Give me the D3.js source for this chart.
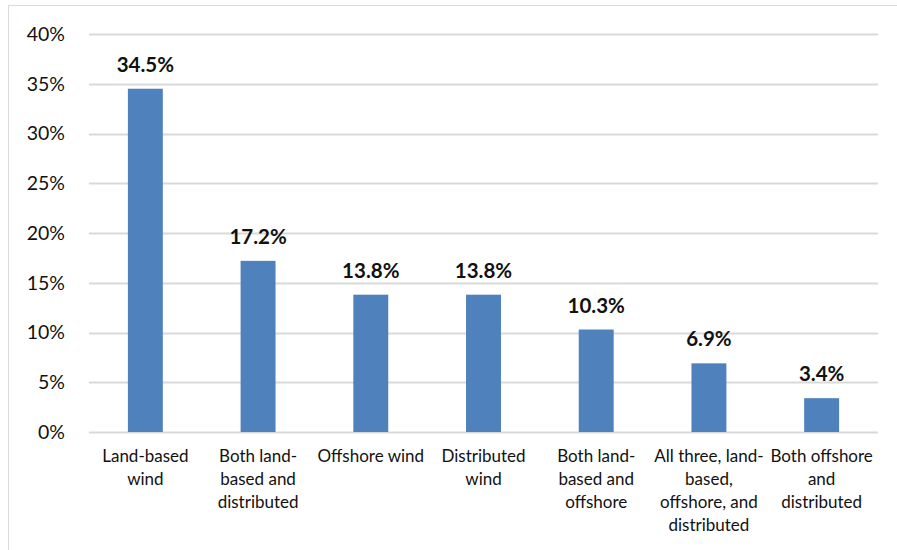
<!DOCTYPE html>
<html>
<head>
<meta charset="utf-8">
<script src="https://cdn.jsdelivr.net/npm/d3@7"></script>
<style>
  body { margin: 0; background: #fff; }
  svg text { font-family: Lato, "Open Sans", sans-serif; fill: #111; }
</style>
</head>
<body>
<script>
// categories (wrapped as in the original), values in percent
var categories = [
  ["Land-based", "wind"],
  ["Both land-", "based and", "distributed"],
  ["Offshore wind"],
  ["Distributed", "wind"],
  ["Both land-", "based and", "offshore"],
  ["All three, land-", "based,", "offshore, and", "distributed"],
  ["Both offshore", "and", "distributed"]
];
var values = [34.5, 17.2, 13.8, 13.8, 10.3, 6.9, 3.4];
var yTicks = [0, 5, 10, 15, 20, 25, 30, 35, 40];

var width = 897, height = 550;
var margin = {top: 34, right: 19, bottom: 118, left: 89};
var w = width - margin.left - margin.right,
    h = height - margin.top - margin.bottom;

var svg = d3.select("body").append("svg")
    .attr("width", width)
    .attr("height", height);

// chart border
svg.append("rect")
    .attr("x", 8.5).attr("y", 5.5)
    .attr("width", 900).attr("height", 600)
    .attr("fill", "none")
    .attr("stroke", "#d9d9d9");

var g = svg.append("g")
    .attr("transform", "translate(" + margin.left + "," + margin.top + ")");

var x = d3.scaleBand()
    .domain(d3.range(categories.length))
    .range([0, w])
    .paddingInner(0.69)
    .paddingOuter(0.345);

var y = d3.scaleLinear()
    .domain([0, 40])
    .range([h, 0]);

// gridlines
g.selectAll(".grid")
    .data(yTicks)
    .enter().append("line")
    .attr("class", "grid")
    .attr("x1", 0).attr("x2", w)
    .attr("y1", function(d) { return Math.round(y(d)) + 0.5; })
    .attr("y2", function(d) { return Math.round(y(d)) + 0.5; })
    .attr("stroke", "#d9d9d9")
    .attr("stroke-width", 2);

// y axis labels
var yAxis = d3.axisLeft(y)
    .tickValues(yTicks)
    .tickFormat(function(d) { return d + "%"; })
    .tickSize(0)
    .tickPadding(24);
var ya = g.append("g").call(yAxis);
ya.select(".domain").remove();
ya.selectAll("text")
    .style("font-size", "19.5px")
    .style("font-family", "Lato, 'Open Sans', sans-serif")
    .attr("fill", "#111");

// bars
g.selectAll(".bar")
    .data(values)
    .enter().append("rect")
    .attr("class", "bar")
    .attr("x", function(d, i) { return x(i); })
    .attr("y", function(d) { return y(d); })
    .attr("width", x.bandwidth())
    .attr("height", function(d) { return h - y(d); })
    .attr("fill", "#4f81bd");

// data labels
g.selectAll(".val")
    .data(values)
    .enter().append("text")
    .attr("class", "val")
    .attr("x", function(d, i) { return x(i) + x.bandwidth() / 2; })
    .attr("y", function(d) { return y(d) - 17; })
    .attr("text-anchor", "middle")
    .style("font-size", "20.5px")
    .style("font-weight", "bold")
    .text(function(d) { return d.toFixed(1) + "%"; });

// category labels
var cat = g.selectAll(".cat")
    .data(categories)
    .enter().append("text")
    .attr("class", "cat")
    .attr("text-anchor", "middle")
    .attr("transform", function(d, i) {
      return "translate(" + (x(i) + x.bandwidth() / 2) + "," + (h + 30) + ")";
    })
    .style("font-size", "17px");
cat.selectAll("tspan")
    .data(function(d) { return d; })
    .enter().append("tspan")
    .attr("x", 0)
    .attr("dy", function(d, i) { return i === 0 ? 0 : 23; })
    .text(function(d) { return d; });
</script>
</body>
</html>
